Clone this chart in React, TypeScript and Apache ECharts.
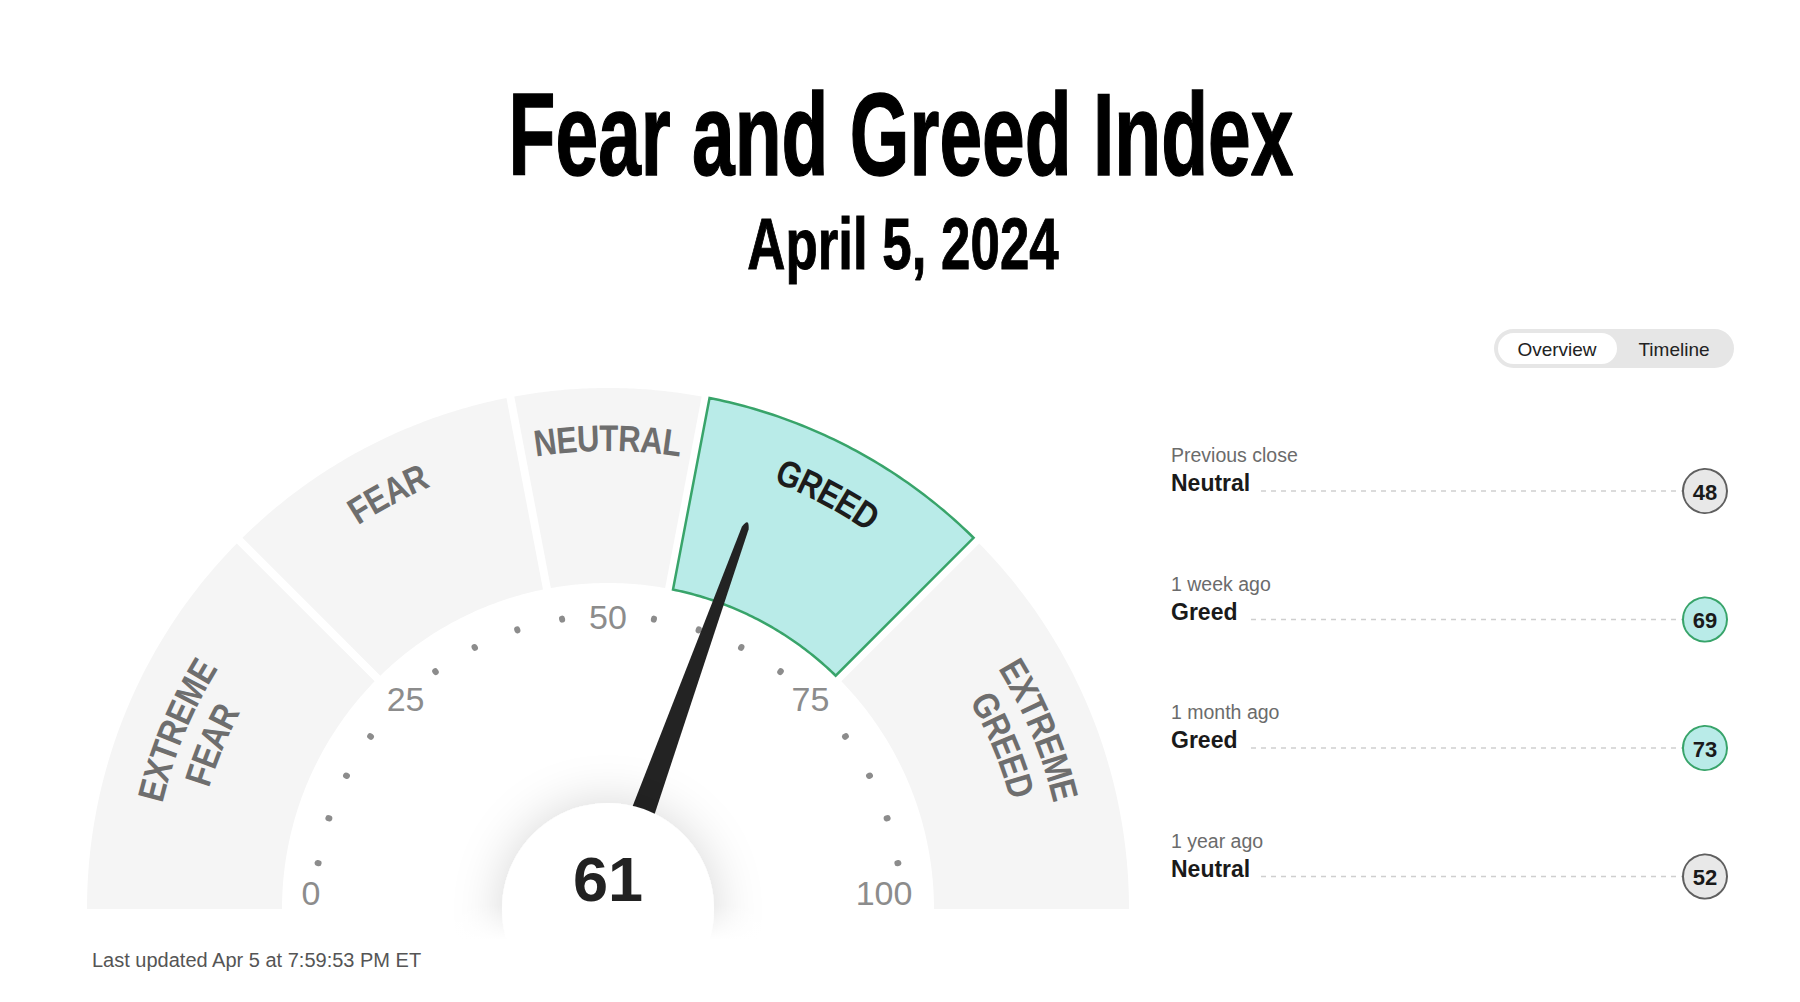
import React, { useEffect, useRef } from 'react';
import * as echarts from 'echarts';

// ---------- data ----------
const SEGMENT_NAMES = ['EXTREME FEAR', 'FEAR', 'NEUTRAL', 'GREED', 'EXTREME GREED'];
const SEGMENT_BOUNDS = [0, 25, 44, 56, 75, 100];
const INDEX_VALUE = 61;
const TICK_VALUES = [0, 25, 50, 75, 100];
const HISTORY_PERIODS = ['Previous close', '1 week ago', '1 month ago', '1 year ago'];
const HISTORY_RATINGS = ['Neutral', 'Greed', 'Greed', 'Neutral'];
const HISTORY_VALUES = [48, 69, 73, 52];
const TITLE = 'Fear and Greed Index';
const SUBTITLE = 'April 5, 2024';
const UPDATED = 'Last updated Apr 5 at 7:59:53 PM ET';
const TABS = ['Overview', 'Timeline'];

// ---------- layout ----------
const CX = 608;
const CY = 909;
const R_OUT = 521;
const R_IN = 326;
const GAP = 8;
const LABEL_R = 471;
const LINE_STEP = 41;
const FONT = '"Liberation Sans", Arial, Helvetica, sans-serif';
const LABEL_FONT_SIZE = 37;
const LABEL_SCALE = 0.84;
const DOT_COLOR = '#8c8c8c';
const NO_COLOR = 'rgba(0,0,0,0)';

const GRAY_FILL = '#f5f5f5';
const GREED_FILL = '#b9ebe8';
const GREED_STROKE = '#38a46a';

let measureCtx: CanvasRenderingContext2D | null = null;
function textWidth(s: string, font: string): number {
  if (!measureCtx) measureCtx = document.createElement('canvas').getContext('2d');
  if (!measureCtx) return s.length * 20;
  measureCtx.font = font;
  return measureCtx.measureText(s).width;
}

function ratingStyle(r: string) {
  if (r === 'Greed' || r === 'Extreme Greed') return { fill: GREED_FILL, stroke: GREED_STROKE };
  return { fill: '#e8e8e8', stroke: '#5f5f5f' };
}

export default function App() {
  const ref = useRef<HTMLDivElement>(null);

  useEffect(() => {
    if (!ref.current) return;
    const chart = echarts.init(ref.current, null, { renderer: 'svg' });

    const segData = SEGMENT_NAMES.map((n, i) => [SEGMENT_BOUNDS[i], SEGMENT_BOUNDS[i + 1], i]);
    const vMin = SEGMENT_BOUNDS[0];
    const vMax = SEGMENT_BOUNDS[SEGMENT_BOUNDS.length - 1];

    const renderItem = (params: any, api: any) => {
      const v0 = api.value(0);
      const v1 = api.value(1);
      const idx = api.value(2);
      const c = api.coord([0, v0]);
      const ang = (v: number) => {
        const p = api.coord([100, v]);
        let a = Math.atan2(p[1] - c[1], p[0] - c[0]);
        if (a < Math.PI - 1e-6) a += 2 * Math.PI;
        return a;
      };
      const a0 = ang(v0);
      const a1 = ang(v1);
      const h0 = v0 > vMin ? GAP / 2 : 0;
      const h1 = v1 < vMax ? GAP / 2 : 0;
      const pts: number[][] = [];
      const N = 60;
      const arc = (r: number, from: number, to: number) => {
        for (let k = 0; k <= N; k++) {
          const a = from + ((to - from) * k) / N;
          pts.push([c[0] + r * Math.cos(a), c[1] + r * Math.sin(a)]);
        }
      };
      arc(R_OUT, a0 + Math.asin(h0 / R_OUT), a1 - Math.asin(h1 / R_OUT));
      arc(R_IN, a1 - Math.asin(h1 / R_IN), a0 + Math.asin(h0 / R_IN));

      const active = INDEX_VALUE >= v0 && (INDEX_VALUE < v1 || (v1 === vMax && INDEX_VALUE <= v1));
      const children: any[] = [
        {
          type: 'polygon',
          shape: { points: pts },
          style: active
            ? { fill: GREED_FILL, stroke: GREED_STROKE, lineWidth: 2.5, lineJoin: 'miter' }
            : { fill: GRAY_FILL },
        },
      ];

      const name = SEGMENT_NAMES[idx];
      const lines = name.split(' ');
      const am = (a0 + a1) / 2;
      const font = `bold ${LABEL_FONT_SIZE}px ${FONT}`;
      const color = active ? '#1c1c1c' : '#6e6e6e';
      lines.forEach((line, li) => {
        const r = LABEL_R - li * LINE_STEP;
        const chars = Array.from(line);
        const ws = chars.map((ch) => textWidth(ch, font) * LABEL_SCALE);
        const W = ws.reduce((s, w) => s + w, 0);
        let cum = -W / 2;
        chars.forEach((ch, k) => {
          const a = am + (cum + ws[k] / 2) / r;
          cum += ws[k];
          children.push({
            type: 'text',
            x: c[0] + r * Math.cos(a),
            y: c[1] + r * Math.sin(a),
            rotation: -a - Math.PI / 2,
            scaleX: LABEL_SCALE,
            style: {
              text: ch,
              fontSize: LABEL_FONT_SIZE,
              fontWeight: 'bold',
              fontFamily: FONT,
              fill: color,
              align: 'center',
              verticalAlign: 'middle',
              textAlign: 'center',
              textVerticalAlign: 'middle',
            },
          });
        });
      });
      return { type: 'group', children };
    };

    // colour stops that hide the dot wherever a numeric tick label sits
    const dotStops: any[] = [];
    TICK_VALUES.forEach((t) => {
      const p = (t - vMin) / (vMax - vMin);
      if (p > 0) dotStops.push([p - 0.01, DOT_COLOR]);
      dotStops.push([Math.min(1, p + 0.01), NO_COLOR]);
    });

    const graphics: any[] = [];
    const txt = (x: number, y: number, text: string, s: any, extra: any = {}) => ({
      type: 'text',
      x,
      y,
      silent: true,
      ...extra,
      style: {
        text,
        fontFamily: FONT,
        align: 'left',
        textAlign: 'left',
        verticalAlign: 'middle',
        textVerticalAlign: 'middle',
        ...s,
      },
    });

    // Title & subtitle
    graphics.push(
      txt(901, 134, TITLE, {
        fontSize: 117,
        fontWeight: 'bold',
        fill: '#000',
        stroke: '#000',
        lineWidth: 1.5,
        align: 'center',
        textAlign: 'center',
      }, { scaleX: 0.656 })
    );
    graphics.push(
      txt(903, 244, SUBTITLE, {
        fontSize: 73,
        fontWeight: 'bold',
        fill: '#000',
        stroke: '#000',
        lineWidth: 1,
        align: 'center',
        textAlign: 'center',
      }, { scaleX: 0.724 })
    );

    // Tabs
    graphics.push({
      type: 'rect',
      silent: true,
      shape: { x: 1494, y: 329, width: 240, height: 39, r: 19.5 },
      style: { fill: '#e6e6e6' },
    });
    graphics.push({
      type: 'rect',
      silent: true,
      shape: { x: 1498, y: 333, width: 119, height: 31, r: 15.5 },
      style: { fill: '#ffffff' },
    });
    const tabCenters = [1557, 1674];
    TABS.forEach((t, i) => {
      graphics.push(
        txt(tabCenters[i], 349, t, { fontSize: 19, fill: '#222', align: 'center', textAlign: 'center' })
      );
    });

    // History list
    const LIST_X = 1171;
    const CIRCLE_X = 1705;
    const CIRCLE_R = 22;
    const ROW_STEP = 128.5;
    HISTORY_PERIODS.forEach((p, i) => {
      const yLabel = 455 + i * ROW_STEP;
      const yRating = 483 + i * ROW_STEP;
      const yCircle = 491 + i * ROW_STEP;
      const st = ratingStyle(HISTORY_RATINGS[i]);
      graphics.push(txt(LIST_X, yLabel, p, { fontSize: 19.5, fill: '#6b6b6b' }));
      graphics.push({
        type: 'line',
        silent: true,
        shape: { x1: LIST_X, y1: yCircle, x2: CIRCLE_X - CIRCLE_R, y2: yCircle },
        style: { stroke: '#cfcfcf', lineWidth: 1.5, lineDash: [5, 5] },
      });
      graphics.push(
        txt(LIST_X, yRating, HISTORY_RATINGS[i], {
          fontSize: 23,
          fontWeight: 'bold',
          fill: '#1a1a1a',
          backgroundColor: '#ffffff',
          padding: [2, 9, 2, 0],
        })
      );
      graphics.push({
        type: 'circle',
        silent: true,
        shape: { cx: CIRCLE_X, cy: yCircle, r: CIRCLE_R },
        style: { fill: st.fill, stroke: st.stroke, lineWidth: 2 },
      });
      graphics.push(
        txt(CIRCLE_X, yCircle + 1, String(HISTORY_VALUES[i]), {
          fontSize: 22,
          fontWeight: 'bold',
          fill: '#1a1a1a',
          align: 'center',
          textAlign: 'center',
        })
      );
    });

    graphics.push(txt(92, 960, UPDATED, { fontSize: 20, fill: '#555' }));

    // fade the hub out below the gauge baseline
    graphics.push({
      type: 'rect',
      silent: true,
      z: 100,
      shape: { x: 430, y: 905, width: 360, height: 97 },
      style: {
        fill: new echarts.graphic.LinearGradient(0, 0, 0, 1, [
          { offset: 0, color: 'rgba(255,255,255,0)' },
          { offset: 0.36, color: 'rgba(255,255,255,1)' },
          { offset: 1, color: 'rgba(255,255,255,1)' },
        ]),
      },
    });

    const labelBase = { fontSize: 34, color: '#8c8c8c', fontFamily: FONT };

    const option: any = {
      animation: false,
      backgroundColor: '#ffffff',
      polar: { center: [CX, CY], radius: R_OUT },
      angleAxis: {
        type: 'value',
        min: 0,
        max: 200,
        startAngle: 180,
        clockwise: true,
        show: false,
      },
      radiusAxis: { type: 'value', min: 0, max: R_OUT, show: false },
      graphic: { elements: graphics },
      series: [
        {
          type: 'custom',
          coordinateSystem: 'polar',
          silent: true,
          data: segData,
          renderItem,
        },
        {
          type: 'gauge',
          center: [CX, CY],
          radius: 294,
          startAngle: 180,
          endAngle: 0,
          min: vMin,
          max: vMax,
          splitNumber: 20,
          silent: true,
          axisLine: { show: false, lineStyle: { width: 0, color: dotStops } },
          progress: { show: false },
          axisTick: { show: false },
          splitLine: {
            show: true,
            length: 1,
            distance: 0,
            lineStyle: { color: 'auto', width: 6, cap: 'round' },
          },
          axisLabel: {
            show: true,
            distance: -20,
            ...labelBase,
            formatter: (v: number) => {
              const val = Math.round(v);
              if (!TICK_VALUES.includes(val)) return '';
              if (val === vMin) return `{z|${val}}`;
              if (val === vMax) return `{h|${val}}`;
              if (val === (vMin + vMax) / 2) return `{m|${val}}`;
              return `{q|${val}}`;
            },
            rich: {
              m: { ...labelBase, padding: [3.5, 0, 0, 0] },
              q: { ...labelBase, padding: [23, 0, 0, 0] },
              z: { ...labelBase, padding: [0, 0, 32, 6.5] },
              h: { ...labelBase, padding: [0, 8.6, 32, 0] },
            },
          },
          pointer: {
            show: true,
            icon: 'path://M9.4,1.5 Q12.5,-1.5 15.6,1.5 L25,100 L0,100 Z',
            length: 411,
            width: 29,
            offsetCenter: [0, 0],
            keepAspect: false,
            itemStyle: { color: '#232323' },
          },
          anchor: {
            show: true,
            showAbove: true,
            size: 212,
            icon: 'circle',
            offsetCenter: [0, 0],
            itemStyle: {
              color: '#ffffff',
              shadowBlur: 50,
              shadowColor: 'rgba(0,0,0,0.16)',
            },
          },
          title: { show: false },
          detail: { show: false },
          data: [{ value: INDEX_VALUE }],
        },
        {
          type: 'gauge',
          z: 10,
          center: [CX, CY],
          radius: 294,
          startAngle: 180,
          endAngle: 0,
          min: vMin,
          max: vMax,
          silent: true,
          axisLine: { show: false },
          progress: { show: false },
          axisTick: { show: false },
          splitLine: { show: false },
          axisLabel: { show: false },
          pointer: { show: false },
          anchor: { show: false },
          title: { show: false },
          detail: {
            show: true,
            valueAnimation: false,
            offsetCenter: [0, -30],
            formatter: '{value}',
            fontSize: 63,
            fontWeight: 'bold',
            fontFamily: FONT,
            color: '#222222',
          },
          data: [{ value: INDEX_VALUE }],
        },
      ],
    };

    chart.setOption(option);
    return () => {
      chart.dispose();
    };
  }, []);

  return (
    <div
      ref={ref}
      style={{ position: 'fixed', left: 0, top: 0, width: 1800, height: 1002, background: '#fff' }}
    />
  );
}
